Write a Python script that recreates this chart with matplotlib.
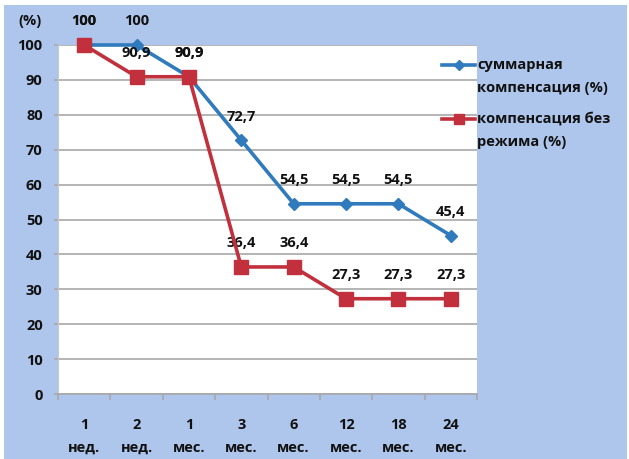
import matplotlib
matplotlib.use("Agg")
import matplotlib.pyplot as plt
from matplotlib.ticker import FixedLocator
from matplotlib.lines import Line2D
from matplotlib.patches import Rectangle

categories = ["1\nнед.", "2\nнед.", "1\nмес.", "3\nмес.", "6\nмес.", "12\nмес.", "18\nмес.", "24\nмес."]
total_comp = [100, 100, 90.9, 72.7, 54.5, 54.5, 54.5, 45.4]
comp_no_regime = [100, 90.9, 90.9, 36.4, 36.4, 27.3, 27.3, 27.3]
yticks = [0, 10, 20, 30, 40, 50, 60, 70, 80, 90, 100]
series_names = [["суммарная", "компенсация (%)"], ["компенсация без", "режима (%)"]]

plt.rcParams['font.family'] = ['Open Sans', 'DejaVu Sans']
BLUE = "#2f7bbd"
RED = "#c1303c"
BG = "#afc6ec"
FS = 10.5
TXT = "#111111"

W, H = 629, 459
fig = plt.figure(figsize=(6.29, 4.59), dpi=100, facecolor="white")
fig.add_artist(Rectangle((4 / W, 0), (W - 6) / W, (H - 5) / H, transform=fig.transFigure,
                         facecolor=BG, edgecolor="none", zorder=-10))
ax = fig.add_axes([58 / W, 1 - 394 / H, (477 - 58) / W, (394 - 45) / H])
ax.set_facecolor("white")

x = list(range(len(categories)))
ax.plot(x, total_comp, color=BLUE, lw=2.6, marker="D", ms=6, mfc=BLUE, mec=BLUE, zorder=3, clip_on=False)
ax.plot(x, comp_no_regime, color=RED, lw=2.6, marker="s", ms=10, mfc=RED, mec=RED, zorder=4, clip_on=False)

def lab(v):
    return ("%g" % v).replace(".", ",")

for series in (total_comp, comp_no_regime):
    for xi, v in zip(x, series):
        ax.annotate(lab(v), (xi, v), xytext=(0, 17), textcoords="offset points",
                    ha="center", va="center", fontsize=FS, fontweight="bold", color=TXT,
                    annotation_clip=False)

ax.set_xlim(-0.5, len(categories) - 0.5)
ax.set_ylim(0, 100)
ax.set_yticks(yticks)
ax.set_yticklabels([str(t) for t in yticks], fontsize=FS, fontweight="bold", color=TXT)
ax.yaxis.grid(True, color="#a8a8a8", lw=1.2)
ax.set_axisbelow(True)
ax.set_xticks(x)
ax.set_xticklabels(categories, fontsize=FS, fontweight="bold", linespacing=1.85, color=TXT)
ax.xaxis.set_minor_locator(FixedLocator([i + 0.5 for i in range(-1, len(categories))]))
ax.tick_params(axis="x", which="major", length=0, pad=17)
ax.tick_params(axis="x", which="minor", length=4, color="#a8a8a8", width=1.2)
ax.tick_params(axis="y", length=3, color="#a8a8a8", width=1.2, pad=8)
for s in ["top", "right"]:
    ax.spines[s].set_visible(False)
ax.spines["left"].set_color("#c8c8c8")
ax.spines["bottom"].set_color("#a8a8a8")
ax.spines["bottom"].set_linewidth(1.2)

fig.text(30 / W, 1 - 21 / H, "(%)", fontsize=FS, fontweight="bold", ha="center", va="center", color=TXT)

# legend drawn manually (handle aligned with first text line)
leg_rows = [(65, BLUE, "D", 5), (119, RED, "s", 7)]
for (yy, col, mk, ms), lines in zip(leg_rows, series_names):
    fy = 1 - yy / H
    fig.add_artist(Line2D([442 / W, 475 / W], [fy, fy], color=col, lw=2.6, transform=fig.transFigure))
    fig.add_artist(Line2D([458.5 / W], [fy], color=col, marker=mk, ms=ms, transform=fig.transFigure))
    for i, line in enumerate(lines):
        fig.text(477 / W, 1 - (yy + 23 * i) / H, line, fontsize=FS, fontweight="bold",
                 ha="left", va="center", color=TXT)

fig.savefig("out.png", dpi=100, facecolor="white")
